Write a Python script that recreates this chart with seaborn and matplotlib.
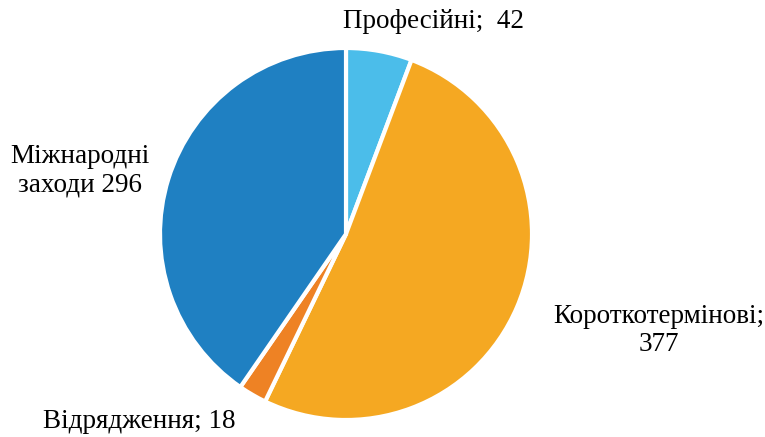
import matplotlib
matplotlib.use("Agg")
import matplotlib.pyplot as plt
import seaborn as sns

sns.set_theme(style="white")
plt.rcParams['font.family'] = ['Liberation Serif', 'DejaVu Serif']

# data
categories = ['Професійні', 'Короткотермінові', 'Відрядження', 'Міжнародні заходи']
values = [42, 377, 18, 296]
labels = ['Професійні;  42', 'Короткотермінові;\n377', 'Відрядження; 18', 'Міжнародні\nзаходи 296']
colors = ['#4bbdea', '#f5a822', '#ee8224', '#1f80c2']

fig = plt.figure(figsize=(7.65, 4.37), dpi=100)
ax = fig.add_axes([160 / 765, 17 / 437, 372 / 765, 372 / 437])

ax.pie(values, colors=colors, startangle=90, counterclock=False,
       wedgeprops=dict(edgecolor='white', linewidth=3))
ax.set_xlim(-1, 1)
ax.set_ylim(-1, 1)
ax.set_aspect('equal')
ax.axis('off')

# label positions (in pie radius units)
label_pos = [(0.47, 1.14), (1.68, -0.52), (-1.11, -1.01), (-1.43, 0.34)]
for lab, (x, y) in zip(labels, label_pos):
    ax.text(x, y, lab, ha='center', va='center', fontsize=19.5, color='black',
            linespacing=1.15)

fig.savefig('out.png', dpi=100)
